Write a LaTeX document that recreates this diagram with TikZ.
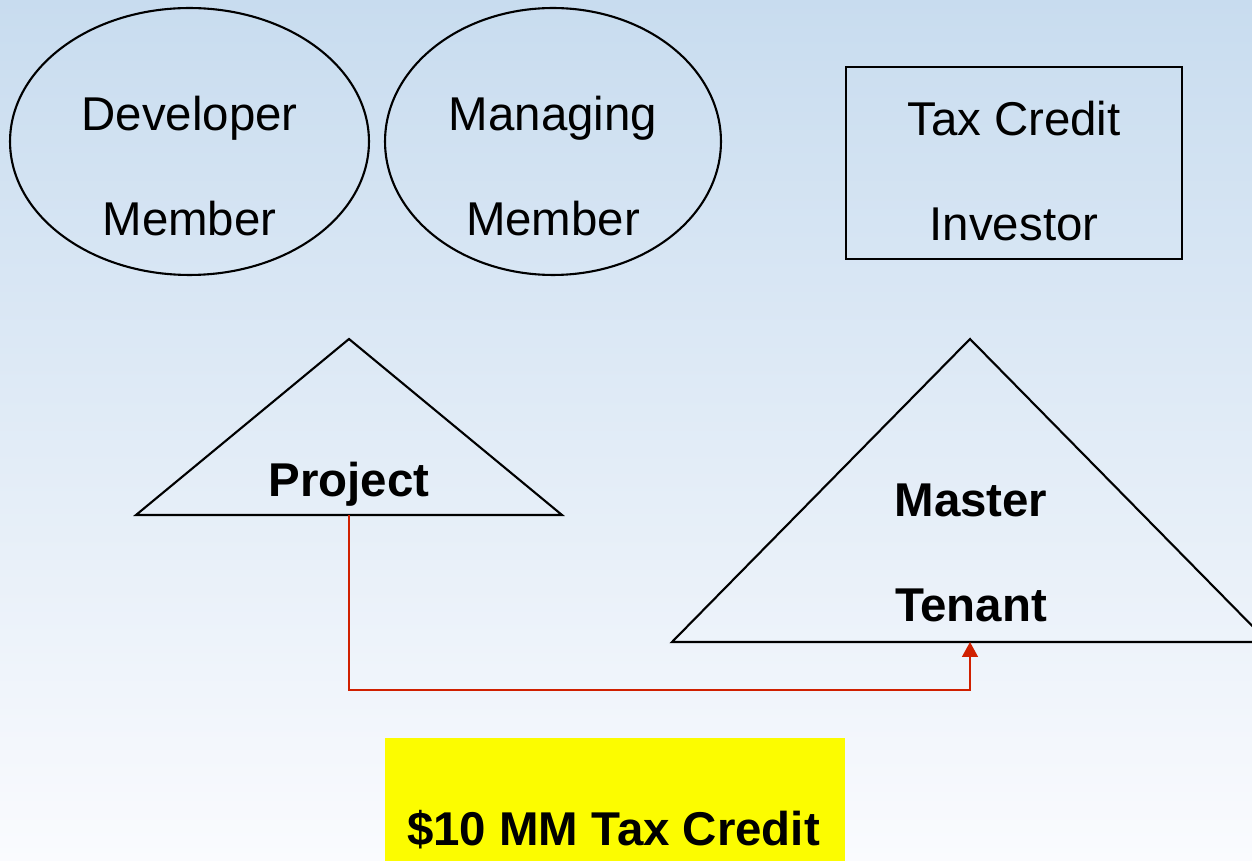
\documentclass[tikz,border=0pt]{standalone}
\usepackage{fontspec}
\setmainfont{Liberation Sans}
\usetikzlibrary{shapes.geometric,arrows.meta}

\definecolor{fondhaut}{RGB}{200,220,239}
\definecolor{fondbas}{RGB}{250,251,254}
\definecolor{rouge}{RGB}{208,32,0}
\definecolor{jaune}{RGB}{252,252,0}

\tikzset{bulle/.style = {ellipse, draw, line width=1.2pt, inner sep=0pt,
                         minimum width=#1, minimum height=5.34cm},
         bulle/.default=7.18cm,
         cadre/.style = {rectangle, draw, line width=1.2pt, inner sep=0pt,
                         minimum width=6.72cm, minimum height=3.84cm},
         texte/.style = {align=center, inner sep=0pt,
                         font=\fontsize{27}{60}\selectfont},
         gras/.style  = {texte, font=\fontsize{27}{60}\selectfont\bfseries},
         trait/.style = {line width=1.2pt, line join=miter},
         fleche/.style = {draw=rouge, line width=1.1pt,
                          -{Triangle[width=9pt, length=8.5pt, fill=rouge]}}
        }

\begin{document}
\begin{tikzpicture}[x=0.02cm, y=-0.02cm]
  \useasboundingbox (0,0) rectangle (1252,861);
  \clip (0,0) rectangle (1252,861);
  \shade[top color=fondhaut, bottom color=fondbas] (0,0) rectangle (1252,861);

  % membres
  \node[bulle] (dev) at (189.5,141.5) {};
  \node[texte] (devtxt) at (189.5,166) {Developer\\Member};
  \node[bulle=6.72cm] (man) at (553,141.5) {};
  \node[texte] (mantxt) at (553,166) {Managing\\Member};

  % investisseur
  \node[cadre] (inv) at (1014,163) {};
  \node[texte] (invtxt) at (1014,171) {Tax Credit\\Investor};

  % triangles
  \draw[trait] (136,515) -- (349,339) -- (562,515) -- cycle;
  \draw[trait] (672,642) -- (970,339) -- (1268,642) -- cycle;
  \coordinate (pied1) at (349,515);
  \coordinate (pied2) at (970,642);
  \coordinate (coude) at (970,690);
  \node[gras, anchor=base] (proj) at (349,497) {Project};
  \node[gras] (mt) at (971,553) {Master\\Tenant};

  \draw[fleche] (pied1) |- (coude) -- (pied2);

  % credit
  \node[rectangle, fill=jaune, minimum width=9.2cm, minimum height=2.84cm] (cred) at (615,809) {};
  \node[gras, anchor=base] (credtxt) at (613.5,845) {\$10 MM Tax Credit};
\end{tikzpicture}
\end{document}
